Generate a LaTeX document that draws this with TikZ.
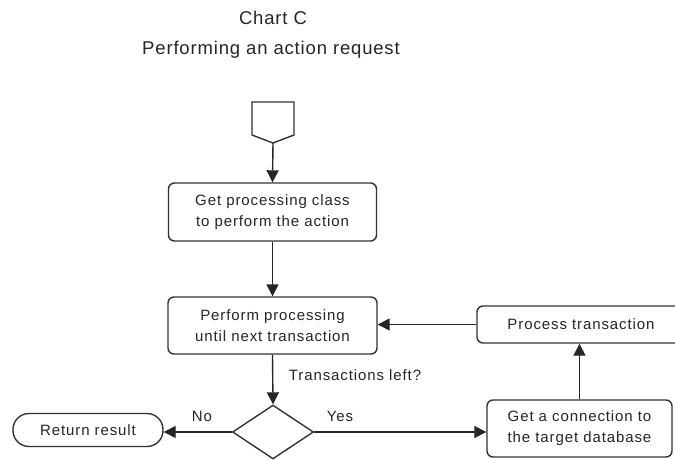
\documentclass[tikz,border=0pt]{standalone}
\usepackage{fontspec}
\setmainfont{Liberation Sans}
\usetikzlibrary{arrows.meta,shapes.geometric}
\begin{document}
\begin{tikzpicture}[x=1pt,y=-1pt,
  line width=1.4pt,
  every node/.style={text=black!85},
  txt/.style={font=\fontsize{15}{21}\selectfont\addfontfeature{LetterSpace=6}},
  proc/.style={draw=black!80, rounded corners=6pt, align=center, inner sep=0pt, txt},
  lbl/.style={inner sep=0pt, txt},
  ttl/.style={font=\fontsize{18.5}{22}\selectfont\addfontfeature{LetterSpace=4.5}, inner sep=0pt},
  arr/.style={draw=black!85, -{Triangle[length=12pt,width=12pt]}},
  dec/.style={draw=black!80, diamond, aspect=1.5, minimum width=81pt, minimum height=54pt, inner sep=0pt}
]
\clip (0,0) rectangle (675,460);
\fill[white] (0,0) rectangle (675,460);

\node[ttl] (t1) at (273,18) {Chart C};
\node[ttl] (t2) at (271,50) {Performing an action request};

% off-page connector
\draw[draw=black!80] (252,102) -- (294,102) -- (294,135) -- (273,143) -- (252,135) -- cycle;
\coordinate (start) at (273,143);

\node[proc, minimum width=208pt, minimum height=58pt] (b1) at (272.5,212) {Get processing class\\to perform the action};
\node[proc, minimum width=209pt, minimum height=57pt] (b2) at (272.5,325.5) {Perform processing\\until next transaction};
\node[proc, minimum width=208pt, minimum height=37pt] (pt) at (581,324.5) {Process transaction};
\node[proc, minimum width=185pt, minimum height=57pt] (conn) at (579.5,428.5) {Get a connection to\\the target database};
\node[dec] (dec) at (273,432) {};
\node[draw=black!80, rounded corners=16pt, minimum width=150pt, minimum height=33pt, inner sep=0pt, txt] (ret) at (88,430) {Return result};

\draw[arr] (start) -- (b1.north);
\draw[arr] (b1.south) -- (b2.north);
\draw[arr] (b2.south) -- (dec.north);
\draw[arr] (dec.west) -- (ret.east |- dec.west);
\draw[arr] (dec.east) -- (conn.west |- dec.east);
\draw[arr] (conn.north) -- (conn.north |- pt.south);
\draw[arr] (pt.west) -- (b2.east |- pt.west);

\node[lbl] (q) at (355,375) {Transactions left?};
\node[lbl] (no) at (202,416) {No};
\node[lbl] (yes) at (340,416) {Yes};
\end{tikzpicture}
\end{document}
